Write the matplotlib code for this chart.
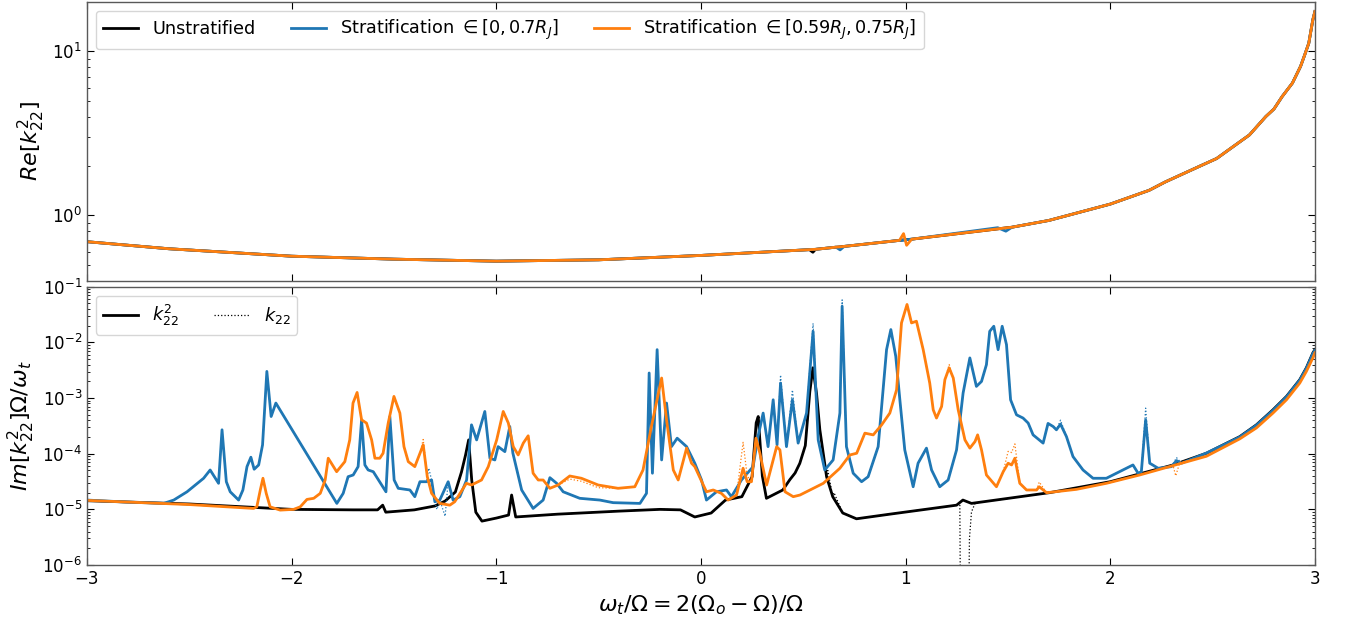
import numpy as np
import matplotlib.pyplot as plt
from matplotlib.lines import Line2D

# ---- top panel: Re[k22^2] -------------------------------------------------
re_x = [-3.0, -2.6, -2.0, -1.5, -1.0, -0.5, 0.0, 0.53, 0.547, 0.56, 0.66, 0.68,
        0.70, 0.97, 0.99, 1.005, 1.03, 1.45, 1.49, 1.52, 1.7, 2.0, 2.19, 2.27,
        2.44, 2.52, 2.6, 2.68, 2.76, 2.8, 2.84, 2.89, 2.93, 2.95, 2.97, 2.99, 3.0]
re_unstrat = [0.69, 0.625, 0.563, 0.54, 0.525, 0.535, 0.569, 0.617, 0.595, 0.62,
              0.639, 0.642, 0.646, 0.703, 0.707, 0.71, 0.715, 0.826, 0.838, 0.846,
              0.93, 1.17, 1.42, 1.6, 2.0, 2.22, 2.62, 3.09, 4.0, 4.45, 5.3, 6.4,
              8.1, 9.5, 11.2, 15.6, 17.5]
re_strat_a = [0.69, 0.625, 0.563, 0.54, 0.525, 0.535, 0.569, 0.617, 0.619, 0.62,
              0.639, 0.615, 0.646, 0.703, 0.707, 0.71, 0.715, 0.84, 0.80, 0.846,
              0.93, 1.17, 1.42, 1.6, 2.0, 2.22, 2.62, 3.09, 4.0, 4.45, 5.3, 6.4,
              8.1, 9.5, 11.2, 15.6, 17.5]
re_strat_b = [0.69, 0.625, 0.563, 0.54, 0.525, 0.535, 0.569, 0.617, 0.619, 0.62,
              0.639, 0.642, 0.646, 0.703, 0.773, 0.656, 0.715, 0.826, 0.838, 0.846,
              0.93, 1.17, 1.42, 1.6, 2.0, 2.22, 2.62, 3.09, 4.0, 4.45, 5.3, 6.4,
              8.1, 9.5, 11.2, 15.6, 17.5]

# ---- bottom panel: Im[k22^2] Omega / omega_t ------------------------------
im_x_unstrat = [-3.0, -2.5, -2.0, -1.7, -1.58, -1.555, -1.54, -1.4, -1.3, -1.25,
                -1.2, -1.17, -1.15, -1.135, -1.12, -1.10, -1.07, -1.0, -0.94,
                -0.925, -0.905, -0.7, -0.4, -0.2, -0.1, -0.03, 0.05, 0.12, 0.2,
                0.25, 0.27, 0.28, 0.30, 0.32, 0.40, 0.434, 0.46, 0.483, 0.51,
                0.532, 0.547, 0.565, 0.581, 0.614, 0.644, 0.693, 0.760, 0.923,
                1.249, 1.280, 1.322, 1.705, 2.0, 2.307, 2.47, 2.633, 2.714,
                2.795, 2.861, 2.926, 2.958, 2.99, 3.0]
im_unstrat = [1.43e-5, 1.25e-5, 1.0e-5, 9.8e-6, 9.8e-6, 1.19e-5, 8.9e-6, 9.8e-6,
              1.15e-5, 1.41e-5, 2.05e-5, 4.7e-5, 9.5e-5, 1.77e-4, 3.37e-5, 8.9e-6,
              6.15e-6, 6.97e-6, 7.9e-6, 1.81e-5, 7.3e-6, 8.2e-6, 9.3e-6, 1.0e-5,
              9.8e-6, 7.3e-6, 8.6e-6, 1.47e-5, 1.69e-5, 3.86e-5, 3.59e-4, 4.66e-4,
              4.0e-5, 1.58e-5, 2.23e-5, 3.4e-5, 4.5e-5, 6.7e-5, 1.4e-4, 1.3e-3,
              3.5e-3, 1.2e-3, 2.7e-4, 3.86e-5, 1.69e-5, 8.6e-6, 6.77e-6, 8.2e-6,
              1.19e-5, 1.47e-5, 1.28e-5, 2.0e-5, 3.14e-5, 6.28e-5, 1.02e-4,
              2.03e-4, 3.3e-4, 6.15e-4, 1.07e-3, 2.14e-3, 3.48e-3, 6.47e-3, 7.4e-3]
# points where the k22 (dotted) curve departs from the k22^2 curve
k22_unstrat_diff = {0.62: 5.0e-5, 0.65: 2.0e-5, 1.265: 1.3e-5, 1.27: 1e-8,
                    1.28: 1e-8, 1.305: 1e-8, 1.312: 3e-6, 1.322: 9e-6, 1.34: 1.3e-5}

im_x_strat_a = [-3.0, -2.8, -2.625, -2.576, -2.511, -2.430, -2.398, -2.357, -2.340,
                -2.319, -2.300, -2.259, -2.238, -2.218, -2.199, -2.183, -2.161,
                -2.142, -2.121, -2.100, -2.077, -1.779, -1.748, -1.724, -1.699,
                -1.675, -1.658, -1.642, -1.626, -1.601, -1.539, -1.520, -1.499,
                -1.479, -1.422, -1.398, -1.373, -1.341, -1.316, -1.300, -1.276,
                -1.235, -1.211, -1.178, -1.145, -1.121, -1.096, -1.056, -1.031,
                -1.007, -0.991, -0.958, -0.934, -0.919, -0.876, -0.820, -0.771,
                -0.738, -0.705, -0.673, -0.592, -0.494, -0.429, -0.298, -0.266,
                -0.253, -0.237, -0.214, -0.192, -0.168, -0.144, -0.116, -0.070,
                -0.030, 0.003, 0.027, 0.076, 0.125, 0.149, 0.198, 0.255, 0.279,
                0.304, 0.328, 0.353, 0.372, 0.389, 0.418, 0.447, 0.475, 0.516,
                0.548, 0.573, 0.605, 0.646, 0.679, 0.690, 0.711, 0.744, 0.785,
                0.817, 0.866, 0.907, 0.928, 0.952, 0.972, 0.996, 1.037, 1.061,
                1.102, 1.127, 1.167, 1.208, 1.249, 1.281, 1.314, 1.346, 1.371,
                1.395, 1.411, 1.431, 1.452, 1.472, 1.493, 1.513, 1.542, 1.574,
                1.599, 1.623, 1.672, 1.696, 1.721, 1.737, 1.757, 1.786, 1.818,
                1.867, 1.916, 1.981, 2.079, 2.111, 2.136, 2.152, 2.173, 2.193,
                2.234, 2.299, 2.324, 2.348, 2.47, 2.633, 2.714, 2.795, 2.861,
                2.926, 2.958, 2.99, 3.0]
im_strat_a = [1.47e-5, 1.35e-5, 1.28e-5, 1.47e-5, 2.07e-5, 3.62e-5, 5.1e-5, 2.94e-5,
              2.69e-4, 3.14e-5, 2.07e-5, 1.47e-5, 2.23e-5, 5.86e-5, 8.65e-5, 5.26e-5,
              6.28e-5, 1.44e-4, 3.01e-3, 4.66e-4, 8.13e-4, 1.28e-5, 1.94e-5, 3.86e-5,
              4.15e-5, 5.86e-5, 4.06e-4, 6.28e-5, 5.1e-5, 4.75e-5, 2.07e-5, 4.66e-4,
              3.37e-5, 2.39e-5, 2.23e-5, 1.69e-5, 3.14e-5, 3.14e-5, 3.37e-5, 1.37e-5,
              1.47e-5, 3.14e-5, 1.47e-5, 1.69e-5, 3.37e-5, 3.3e-4, 1.77e-4, 5.74e-4,
              8.3e-5, 7.73e-5, 1.34e-4, 1.09e-4, 3.08e-4, 1.03e-4, 2.23e-5, 1.04e-5,
              1.47e-5, 3.71e-5, 2.94e-5, 2.07e-5, 1.58e-5, 1.47e-5, 1.32e-5, 1.28e-5,
              1.94e-5, 2.82e-3, 4.46e-5, 7.41e-3, 7.73e-5, 8.13e-4, 1.34e-4, 1.9e-4,
              1.34e-4, 6.75e-5, 3.37e-5, 1.47e-5, 2.07e-5, 2.23e-5, 1.69e-5, 3.37e-5,
              5.86e-5, 2.03e-4, 5.37e-4, 1.34e-4, 9.31e-4, 1.44e-4, 1.86e-3, 1.34e-4,
              9.31e-4, 1.55e-4, 5.37e-4, 1.58e-2, 1.77e-4, 5.1e-5, 7.73e-5, 5.37e-4,
              4.47e-2, 1.34e-4, 4.46e-5, 3.14e-5, 3.86e-5, 1.34e-4, 7.41e-3, 1.7e-2,
              5.62e-3, 9.31e-4, 1.17e-4, 2.55e-5, 6.75e-5, 1.26e-4, 5.1e-5, 2.55e-5,
              3.37e-5, 1.17e-4, 1.23e-3, 5.26e-3, 1.62e-3, 1.99e-3, 3.98e-3, 1.58e-2,
              1.95e-2, 7.41e-3, 1.95e-2, 9.12e-3, 9.31e-4, 5.0e-4, 4.37e-4, 3.55e-4,
              2.18e-4, 1.55e-4, 3.5e-4, 3.08e-4, 2.69e-4, 3.4e-4, 2.03e-4, 8.87e-5,
              5.1e-5, 3.62e-5, 3.62e-5, 5.48e-5, 6.28e-5, 4.46e-5, 4.75e-5, 4.06e-4,
              6.75e-5, 5.48e-5, 5.86e-5, 7.52e-5, 6.75e-5, 1.03e-4, 2.0e-4, 3.25e-4,
              6.0e-4, 1.05e-3, 2.1e-3, 3.4e-3, 6.3e-3, 7.2e-3]
k22_strat_a_diff = {-1.33: 5.5e-5, -1.29: 1.0e-5, -1.25: 7.5e-6, 0.389: 2.6e-3,
                    0.447: 1.4e-3, 0.548: 2.2e-2, 0.690: 5.8e-2, 1.757: 4.0e-4,
                    2.173: 6.6e-4, 2.324: 8.5e-5}

im_x_strat_b = [-3.0, -2.5, -2.186, -2.170, -2.153, -2.140, -2.124, -2.105, -2.056,
                -1.990, -1.958, -1.925, -1.892, -1.860, -1.836, -1.821, -1.780,
                -1.740, -1.716, -1.700, -1.680, -1.658, -1.634, -1.609, -1.593,
                -1.569, -1.553, -1.528, -1.500, -1.471, -1.451, -1.430, -1.398,
                -1.373, -1.357, -1.337, -1.316, -1.276, -1.227, -1.203, -1.146,
                -1.121, -1.072, -1.039, -0.998, -0.966, -0.941, -0.917, -0.893,
                -0.868, -0.844, -0.820, -0.795, -0.771, -0.738, -0.698, -0.641,
                -0.584, -0.502, -0.405, -0.323, -0.283, -0.242, -0.192, -0.168,
                -0.135, -0.111, -0.070, -0.046, -0.030, 0.027, 0.060, 0.100, 0.133,
                0.174, 0.206, 0.226, 0.247, 0.269, 0.288, 0.321, 0.370, 0.386,
                0.411, 0.451, 0.484, 0.598, 0.679, 0.728, 0.761, 0.801, 0.842,
                0.883, 0.923, 0.956, 0.980, 1.007, 1.029, 1.053, 1.086, 1.118,
                1.135, 1.151, 1.176, 1.192, 1.213, 1.233, 1.257, 1.290, 1.314,
                1.339, 1.352, 1.371, 1.395, 1.444, 1.477, 1.501, 1.518, 1.534,
                1.558, 1.591, 1.640, 1.653, 1.689, 1.835, 1.981, 2.144, 2.307,
                2.47, 2.633, 2.714, 2.795, 2.861, 2.926, 2.958, 2.99, 3.0]
im_strat_b = [1.45e-5, 1.22e-5, 1.04e-5, 1.11e-5, 2.23e-5, 3.62e-5, 1.94e-5, 1.11e-5,
              9.7e-6, 1.0e-5, 1.11e-5, 1.51e-5, 1.58e-5, 1.94e-5, 3.37e-5, 8.3e-5,
              4.75e-5, 7.2e-5, 1.77e-4, 8.13e-4, 1.26e-3, 4.06e-4, 3.55e-4, 1.77e-4,
              8.3e-5, 8.3e-5, 1.02e-4, 3.55e-4, 1.07e-3, 5.37e-4, 1.34e-4, 7.2e-5,
              5.86e-5, 1.02e-4, 1.44e-4, 3.86e-5, 1.94e-5, 1.28e-5, 1.19e-5, 1.37e-5,
              2.94e-5, 2.74e-5, 3.37e-5, 5.86e-5, 1.77e-4, 5.74e-4, 3.55e-4, 1.34e-4,
              9.5e-5, 1.55e-4, 2.1e-4, 4.46e-5, 3.37e-5, 3.37e-5, 2.39e-5, 2.74e-5,
              3.98e-5, 3.62e-5, 2.74e-5, 2.39e-5, 2.55e-5, 5.1e-5, 3.08e-4, 2.29e-3,
              4.06e-4, 5.1e-5, 3.37e-5, 1.26e-4, 6.75e-5, 5.86e-5, 2.07e-5, 2.23e-5,
              1.94e-5, 1.47e-5, 1.81e-5, 5.48e-5, 3.14e-5, 3.14e-5, 1.9e-4, 1.02e-4,
              2.74e-5, 1.34e-4, 1.17e-4, 2.07e-5, 1.69e-5, 1.81e-5, 2.94e-5, 5.48e-5,
              9.5e-5, 1.02e-4, 2.34e-4, 2.18e-4, 3.3e-4, 5.37e-4, 1.41e-3, 2.24e-2,
              4.8e-2, 2.24e-2, 2.4e-2, 7.41e-3, 1.86e-3, 6.15e-4, 4.37e-4, 7.06e-4,
              2.14e-3, 3.48e-3, 2.29e-3, 6.15e-4, 1.77e-4, 1.26e-4, 1.65e-4, 2.18e-4,
              1.17e-4, 4.15e-5, 2.55e-5, 4.75e-5, 6.75e-5, 6.28e-5, 8.3e-5, 2.94e-5,
              2.23e-5, 2.23e-5, 2.55e-5, 1.99e-5, 2.29e-5, 2.94e-5, 4.15e-5, 6.11e-5,
              9.0e-5, 1.85e-4, 2.9e-4, 5.37e-4, 9.3e-4, 1.86e-3, 3.0e-3, 5.26e-3,
              6.5e-3]
k22_strat_b_diff = {-1.357: 1.8e-4, -0.641: 3.5e-5, -0.584: 3.2e-5, -0.502: 2.45e-5,
                    0.206: 1.6e-4, 0.226: 4.0e-5, 1.213: 4.0e-3, 1.501: 1.1e-4,
                    1.518: 1.05e-4, 1.534: 1.5e-4, 1.653: 3.1e-5, 2.32: 4.0e-5,
                    2.34: 7.0e-5}

labels = ['Unstratified', r'Stratification $\in [0, 0.7R_J]$',
          r'Stratification $\in [0.59R_J, 0.75R_J]$']
colors = ['black', '#1f77b4', '#ff7f0e']


def with_diff(xs, ys, diff):
    # k22 curve: same samples as k22^2 except where the two visibly separate
    pts = dict(zip(xs, ys))
    pts.update(diff)
    keys = sorted(pts)
    return keys, [pts[k] for k in keys]


fig = plt.figure(figsize=(13.46, 6.22), dpi=100)
ax1 = fig.add_axes([0.0646, 0.5490, 0.9123, 0.4478])
ax2 = fig.add_axes([0.0646, 0.0916, 0.9123, 0.4474], sharex=ax1)

re_series = [re_unstrat, re_strat_a, re_strat_b]
for ys, c, lab in zip(re_series, colors, labels):
    ax1.plot(re_x, ys, color=c, lw=2, label=lab)

im_series = [(im_x_unstrat, im_unstrat, k22_unstrat_diff),
             (im_x_strat_a, im_strat_a, k22_strat_a_diff),
             (im_x_strat_b, im_strat_b, k22_strat_b_diff)]
for (xs, ys, diff), c in zip(im_series, colors):
    ax2.plot(xs, ys, color=c, lw=2)
    dx, dy = with_diff(xs, ys, diff)
    ax2.plot(dx, dy, color=c, lw=0.9, ls=':')

ax1.set_yscale('log')
ax1.set_ylim(0.4, 20)
ax1.set_ylabel(r'$Re[k_{22}^2]$', fontsize=16)
ax1.legend(loc='upper left', ncol=3, fontsize=12.7)
plt.setp(ax1.get_xticklabels(), visible=False)

ax2.set_yscale('log')
ax2.set_ylim(1e-6, 1e-1)
ax2.set_xlim(-3, 3)
ax2.set_xticks([-3, -2, -1, 0, 1, 2, 3])
ax2.set_ylabel(r'$Im[k_{22}^2]\Omega/\omega_t$', fontsize=16)
ax2.set_xlabel(r'$\omega_t/\Omega = 2(\Omega_o - \Omega)/\Omega$', fontsize=16)
handles = [Line2D([], [], color='black', lw=2),
           Line2D([], [], color='black', lw=0.9, ls=':')]
ax2.legend(handles, [r'$k_{22}^2$', r'$k_{22}$'], loc='upper left', ncol=2,
           fontsize=12.7)

for ax in (ax1, ax2):
    ax.tick_params(which='both', direction='in', top=True, right=True)
    ax.tick_params(which='major', length=5, labelsize=12)
    ax.tick_params(which='minor', length=2.5)
    for spine in ax.spines.values():
        spine.set_color('0.35')
        spine.set_linewidth(1.0)

fig.savefig('out.png', dpi=100)
